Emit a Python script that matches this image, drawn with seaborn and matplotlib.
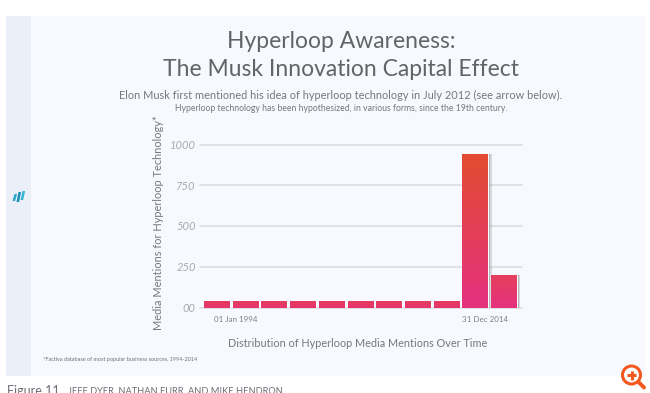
import numpy as np
import pandas as pd
import matplotlib
matplotlib.use("Agg")
import matplotlib.pyplot as plt
import matplotlib.patheffects as pe
from matplotlib.colors import LinearSegmentedColormap
from matplotlib.patches import Rectangle, Circle, Polygon
import seaborn as sns

# values
periods = ["P1", "P2", "P3", "P4", "P5", "P6", "P7", "P8", "P9", "P10", "P11"]
mentions = [40, 40, 40, 40, 40, 40, 40, 40, 40, 942, 200]
y_ticks = [0, 250, 500, 750, 1000]
y_labels = ["00", "250", "500", "750", "1000"]
x_labels = ["01 Jan 1994", "31 Dec 2014"]

df = pd.DataFrame({"period": periods, "mentions": mentions})

sns.set_theme(style="white")
plt.rcParams["font.family"] = ["Lato", "DejaVu Sans"]

W, H = 650, 393
fig = plt.figure(figsize=(W / 100, H / 100), dpi=100, facecolor="white")

# overlay in pixel coords for the page furniture
bg = fig.add_axes([0, 0, 1, 1], zorder=0)
bg.set_xlim(0, W)
bg.set_ylim(H, 0)
bg.axis("off")
bg.add_patch(Rectangle((6, 16), 640, 360, color="#f8f9ff", lw=0))
bg.add_patch(Rectangle((6, 16), 25, 360, color="#ebeff8", lw=0))

# logo
for x0, y0, h, c in [(12.5, 201, 7, "#2fa9c9"), (16.5, 202, 10, "#1f8fb5"), (20.5, 200, 9, "#35b6cf")]:
    bg.add_patch(Polygon([(x0, y0), (x0 + 2.6, y0), (x0 + 4.6, y0 - h), (x0 + 2, y0 - h)], color=c, lw=0))

# zoom icon
bg.add_patch(Circle((631.5, 375), 9, fc="white", ec="#f4581f", lw=2.2))
bg.plot([631.5, 631.5], [370.5, 379.5], color="#f4581f", lw=2.2, solid_capstyle="butt")
bg.plot([627, 636], [375, 375], color="#f4581f", lw=2.2, solid_capstyle="butt")
bg.plot([638.5, 644], [382, 387.5], color="#f4581f", lw=2.8, solid_capstyle="round")

# texts
dark = "#636466"
grey = "#77787b"
bg.text(341, 41, "Hyperloop Awareness:", ha="center", va="center", fontsize=16.5, color=dark)
bg.text(341, 69.5, "The Musk Innovation Capital Effect", ha="center", va="center", fontsize=16.5, color=dark)
bg.text(341, 95, "Elon Musk first mentioned his idea of hyperloop technology in July 2012 (see arrow below).",
        ha="center", va="center", fontsize=7.96, color=grey)
bg.text(341, 108.5, "Hyperloop technology has been hypothesized, in various forms, since the 19th century.",
        ha="center", va="center", fontsize=6.2, color=grey)
bg.text(43, 360, "*Factiva database of most popular business sources, 1994-2014",
        ha="left", va="center", fontsize=4, color="#6f7072")
bg.text(7, 391, "Figure 11", ha="left", va="center", fontsize=9, color="#6b6e75")
bg.text(68, 391.5, "JEFF DYER, NATHAN FURR, AND MIKE HENDRON", ha="left", va="center", fontsize=6.7, color="#6b6e75")

# chart axes
ax = fig.add_axes([200 / W, 1 - 307.5 / H, 322 / W, 163 / H], zorder=1)
ax.patch.set_alpha(0)
sns.barplot(data=df, x="period", y="mentions", ax=ax, width=0.9, color="#e53a62", saturation=1)
ax.set_xlim(-0.59, 10.63)
ax.set_ylim(0, 1000)
sns.despine(ax=ax, left=True, bottom=True)

ax.set_yticks(y_ticks, y_labels)
ax.tick_params(axis="y", length=0, pad=3, labelsize=8, labelcolor="#a9aaad")
for t in ax.get_yticklabels():
    t.set_fontstyle("italic")
ax.grid(axis="y", color="#d9dade", lw=1.1)
ax.set_axisbelow(True)
for line in ax.get_ygridlines():
    line.set_clip_on(False)

# the two date labels sit between bars, not under one
ax.set_xticks([0.66, 9.35], x_labels)
ax.tick_params(axis="x", length=0, pad=6, labelsize=5.8, labelcolor="#808184")

ax.set_xlabel("Distribution of Hyperloop Media Mentions Over Time", fontsize=7.85, color=grey)
ax.xaxis.set_label_coords(0.49, -0.185)
ax.set_ylabel("Media Mentions for Hyperloop Technology*", fontsize=7.9, color=grey)
ax.yaxis.set_label_coords(-0.112, 0.52)

# gradient fill per bar, clipped to the bar patch (row 0 is the bottom of the bar)
for bar, v in zip(ax.patches, mentions):
    top = "#e24c30" if v > 500 else "#e5405c" if v > 100 else "#e43c5e"
    bottom = "#e5317f" if v > 100 else "#e5356e"
    cmap = LinearSegmentedColormap.from_list("bar", [bottom, top])
    x, w = bar.get_x(), bar.get_width()
    img = ax.imshow(np.linspace(0, 1, 64).reshape(-1, 1), cmap=cmap, aspect="auto",
                    extent=[x, x + w, 0, v], zorder=3, origin="lower")
    img.set_clip_path(bar)
    if v > 100:
        bar.set_path_effects([
            pe.SimplePatchShadow(offset=(2.6, -0.2), shadow_rgbFace="#8a8c90", alpha=0.3),
            pe.SimplePatchShadow(offset=(1.4, -0.1), shadow_rgbFace="#77797d", alpha=0.55),
            pe.Normal(),
        ])
ax.set_xlim(-0.59, 10.63)
ax.set_ylim(0, 1000)

fig.savefig("out.png", dpi=100)
